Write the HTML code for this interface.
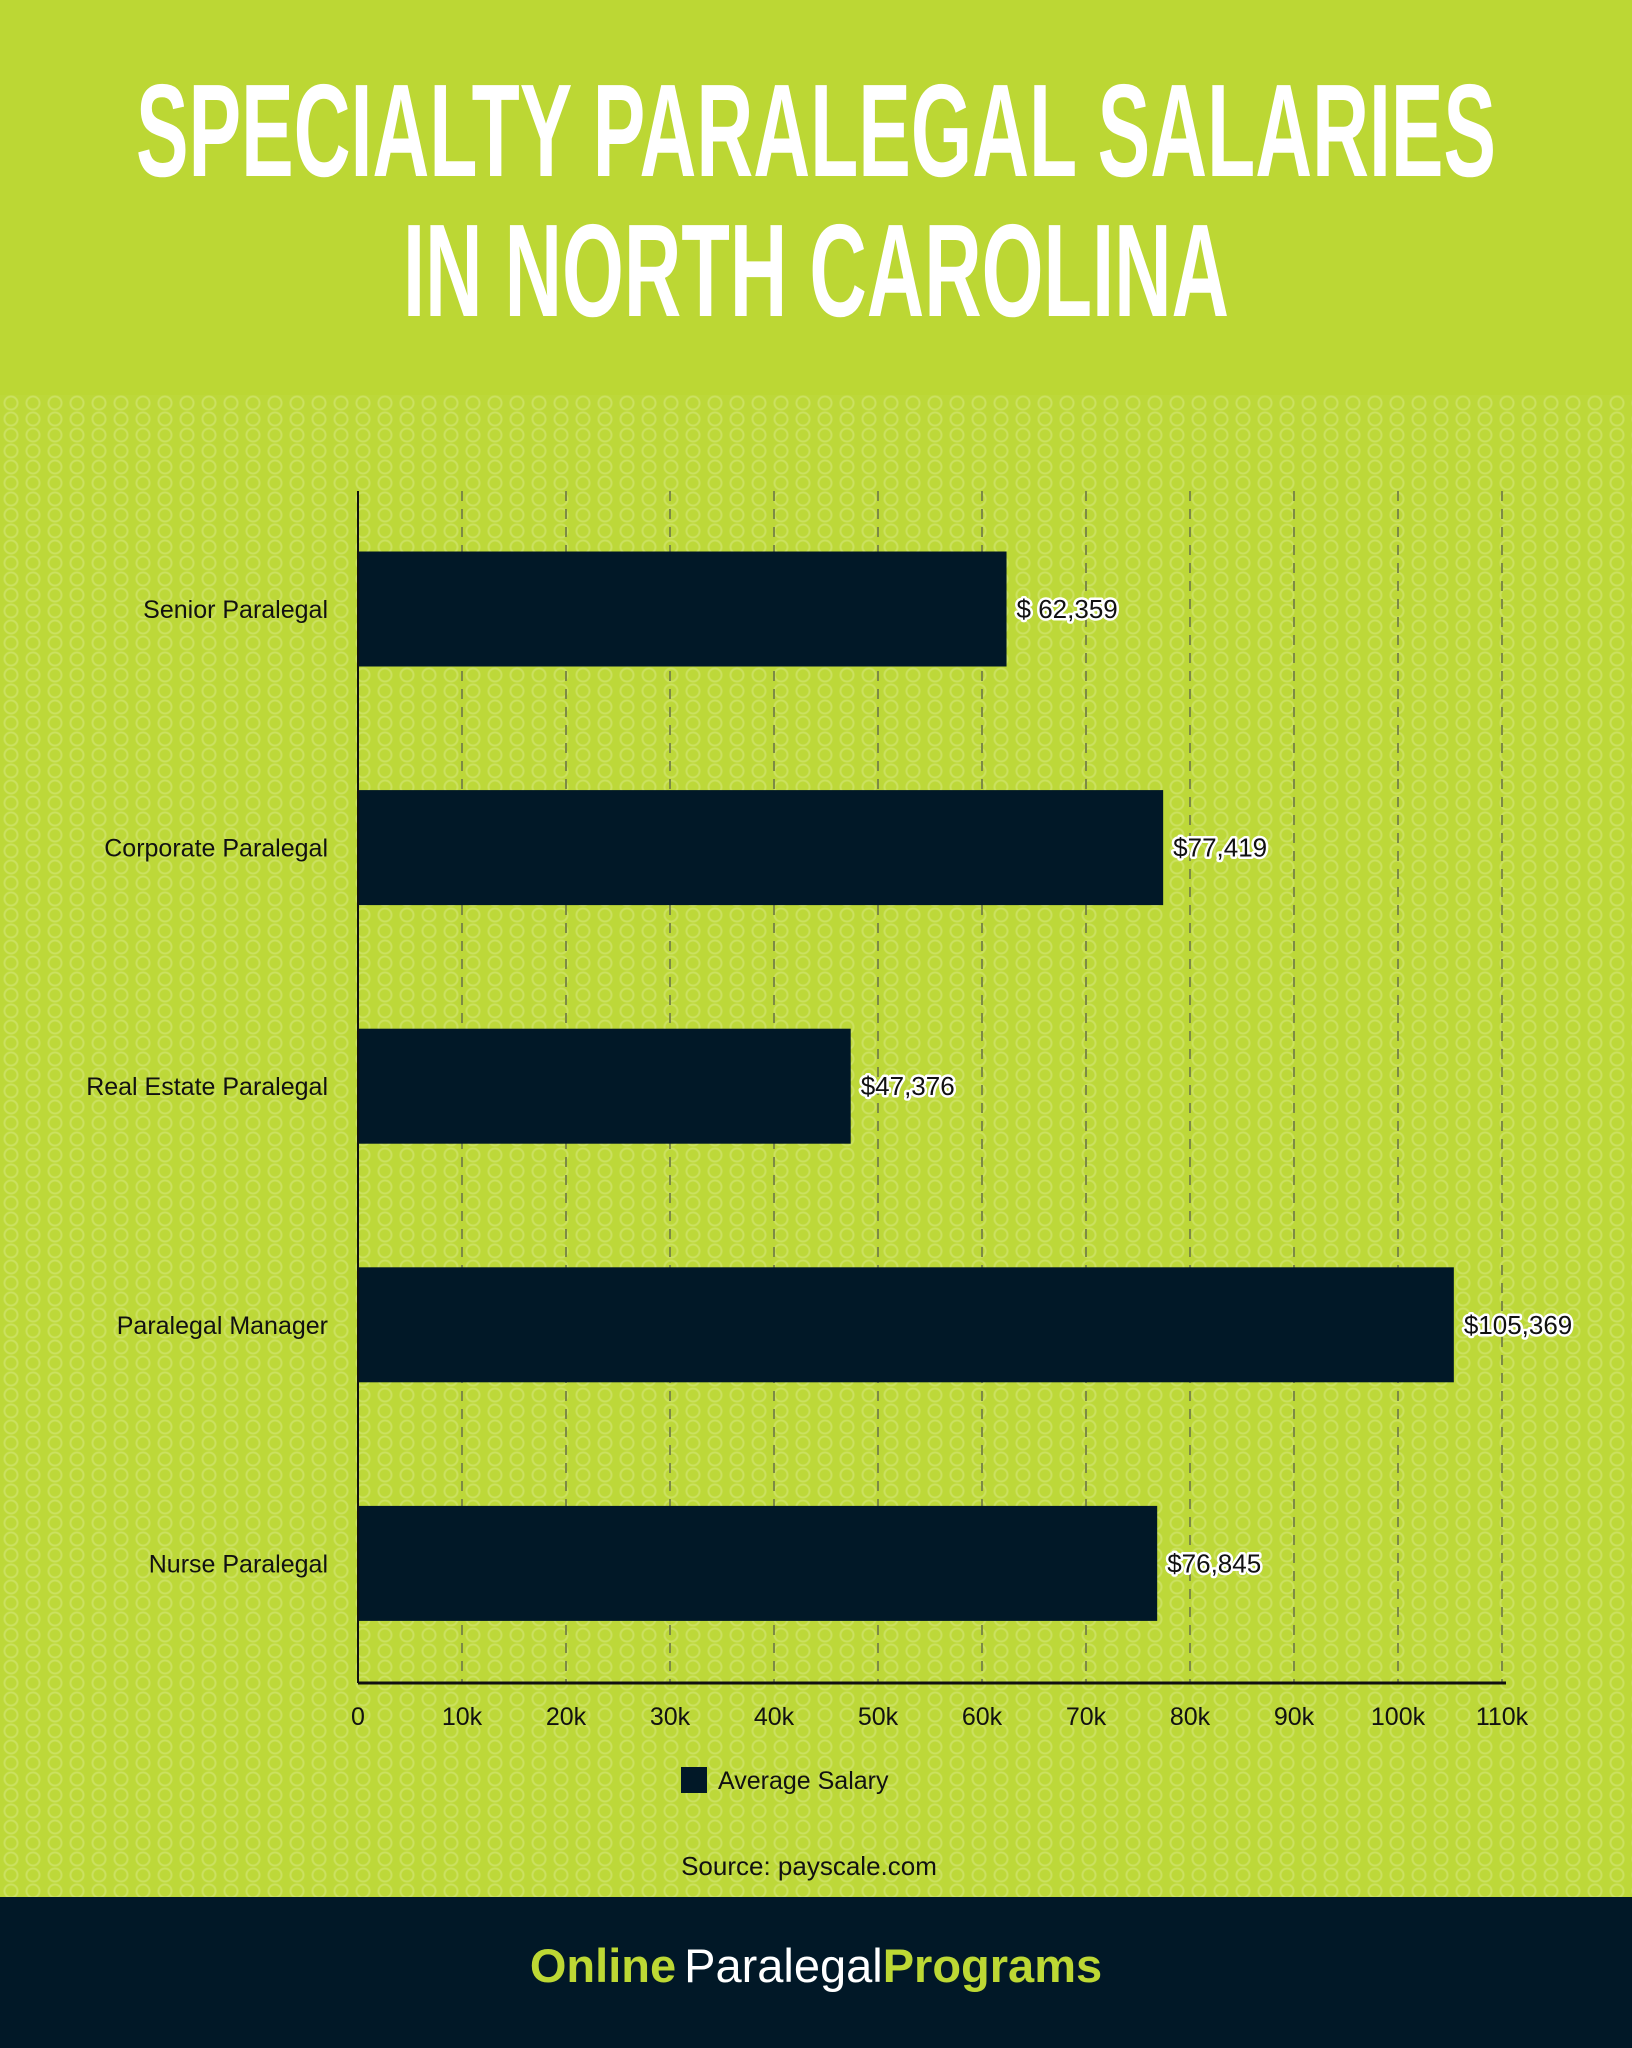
<!DOCTYPE html>
<html><head><meta charset="utf-8"><style>
html,body{margin:0;padding:0}
body{width:1632px;height:2048px;position:relative;overflow:hidden;background:#bed83a;font-family:"Liberation Sans",sans-serif}
.bg{position:absolute;left:0;top:395px;width:1632px;height:1502px;
background-color:#bdd839;
background-image:radial-gradient(circle at 50% 50%, transparent 5px, rgba(230,240,170,.35) 6px, rgba(230,240,170,.35) 7px, transparent 8px);
background-size:22px 16px}
</style></head><body>
<div style="position:absolute;left:0;top:0;width:1632px;height:395px;background:#bcd734"></div>
<div class="bg"></div>
<svg width="1632" height="395" style="position:absolute;left:0;top:0">
<text x="816" y="176" text-anchor="middle" font-family="Liberation Sans Narrow, Liberation Sans, sans-serif" font-weight="bold" font-size="132" fill="#fff" textLength="1360" lengthAdjust="spacingAndGlyphs">SPECIALTY PARALEGAL SALARIES</text>
<text x="816" y="316" text-anchor="middle" font-family="Liberation Sans Narrow, Liberation Sans, sans-serif" font-weight="bold" font-size="132" fill="#fff" textLength="826" lengthAdjust="spacingAndGlyphs">IN NORTH CAROLINA</text>
</svg>
<svg id="chart" width="1632" height="1502" style="position:absolute;left:0;top:395px"></svg>
<div style="position:absolute;left:0;top:1897px;width:1632px;height:151px;background:#011827"></div>
<div style="position:absolute;left:0;top:1938px;width:1632px;text-align:center;font-size:47px;line-height:56px;color:#fff"><b style="color:#bdd834">Online</b><span style="margin-left:8px">Paralegal</span><b style="color:#bdd834">Programs</b></div>
<script>
const categories=["Senior Paralegal","Corporate Paralegal","Real Estate Paralegal","Paralegal Manager","Nurse Paralegal"];
const values=[62359,77419,47376,105369,76845];
const valueLabels=["$ 62,359","$77,419","$47,376","$105,369","$76,845"];
const ticks=[0,10000,20000,30000,40000,50000,60000,70000,80000,90000,100000,110000];
const tickLabels=["0","10k","20k","30k","40k","50k","60k","70k","80k","90k","100k","110k"];
const NS="http://www.w3.org/2000/svg";
const svg=document.getElementById('chart');
const OY=395;
const x0=358,x1=1502,xmax=110000,yTop=491-OY,yBot=1683-OY;
const xs=v=>x0+(x1-x0)*v/xmax;
const band=238.6,first=609-OY,bh=115;
const ys=i=>first+i*band;
function mk(t,a){const e=document.createElementNS(NS,t);for(const k in a)e.setAttribute(k,a[k]);svg.appendChild(e);return e;}
ticks.forEach((t,i)=>{
 if(i>0){const g=mk('line',{x1:xs(t),x2:xs(t),y1:yTop,y2:yBot,stroke:'#7d8a45','stroke-width':2,'stroke-dasharray':'10,8'});
 
 }
 const l=mk('text',{x:xs(t),y:1725-OY,'text-anchor':'middle','font-size':25,fill:'#111'});
 l.textContent=tickLabels[i];
 
 
});
categories.forEach((c,i)=>{
 const b=mk('rect',{x:x0,y:ys(i)-bh/2,width:xs(values[i])-x0,height:bh,fill:'#011827'});
 
 
 const l=mk('text',{x:328,y:ys(i)+9,'text-anchor':'end','font-size':25,fill:'#111'});
 l.textContent=c;
 
 
 const v=mk('text',{x:xs(values[i])+10,y:ys(i)+9,'font-size':26,fill:'#111',stroke:'#fff','stroke-width':5,'paint-order':'stroke','stroke-linejoin':'round'});
 v.textContent=valueLabels[i];
 
 
});
const ya=mk('line',{x1:x0,x2:x0,y1:yTop,y2:yBot,stroke:'#111','stroke-width':2});


const xa=mk('line',{x1:x0,x2:x1+4,y1:yBot,y2:yBot,stroke:'#111','stroke-width':3});


const ls=mk('rect',{x:681,y:1767-OY,width:26,height:26,fill:'#011827'});


const lt=mk('text',{x:718,y:1789-OY,'font-size':25,fill:'#111'});
lt.textContent='Average Salary';


const src=mk('text',{x:809,y:1875-OY,'text-anchor':'middle','font-size':26,fill:'#111'});
src.textContent='Source: payscale.com';


</script>
</body></html>
